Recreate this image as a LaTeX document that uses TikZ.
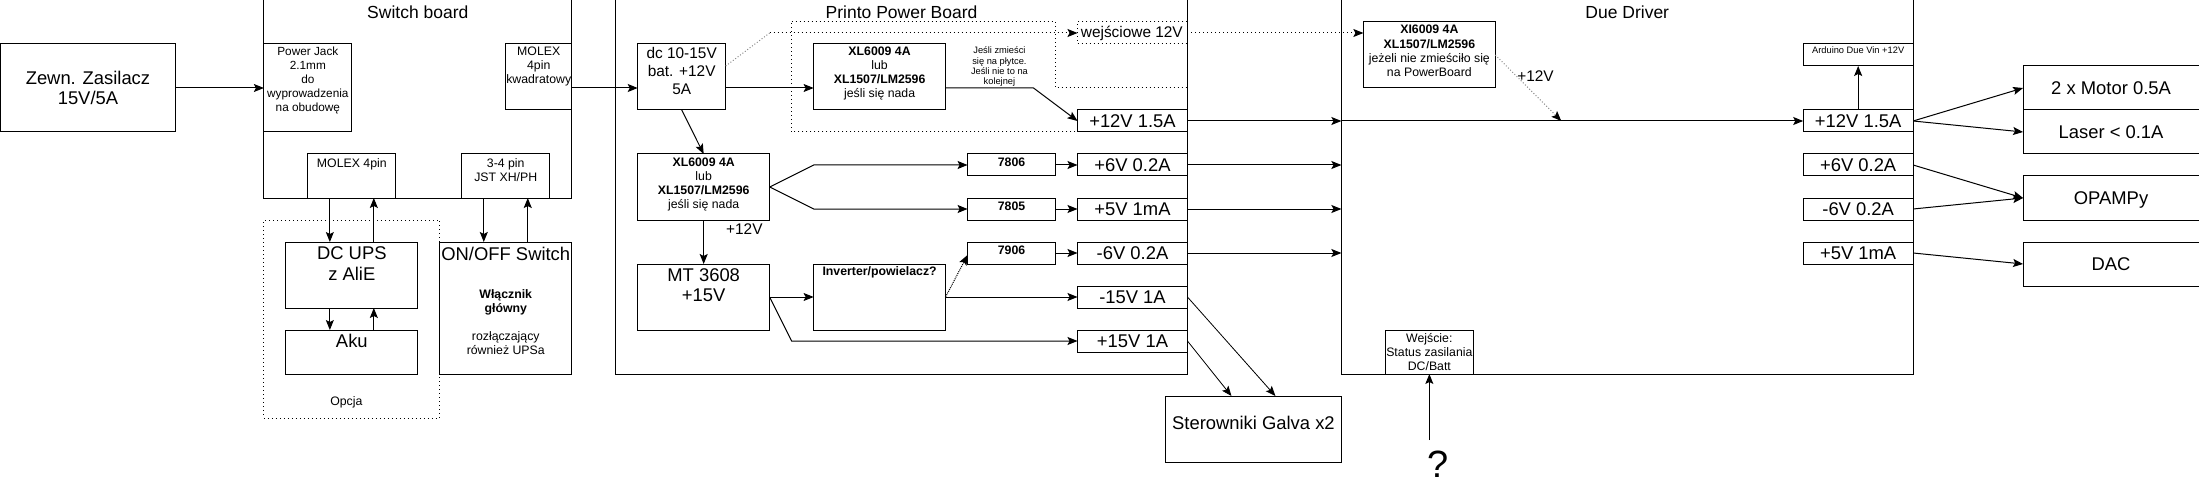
\documentclass[tikz,border=0pt]{standalone}
\usepackage{fontspec}
\setmainfont{Liberation Sans}
\usetikzlibrary{arrows.meta}
\newcommand\fzL{\fontsize{18.4}{20.5}\selectfont}
\newcommand\fzT{\fontsize{17.5}{20}\selectfont}
\newcommand\fzP{\fontsize{15.4}{18}\selectfont}
\newcommand\fzM{\fontsize{12.3}{14.1}\selectfont}
\newcommand\fzS{\fontsize{9.3}{10.3}\selectfont}
\newcommand\mkbox[7][]{\node[bx,minimum width={(#5-#3)*21.99pt},minimum height={(#6-#4)*22pt},#1] (#2) at ({(#3+#5)/2},{(#4+#6)/2}) {#7};}
\begin{document}
\begin{tikzpicture}[x=21.99pt, y=-22pt, line width=1pt,
  bx/.style={draw, inner sep=0pt, outer sep=0pt, align=center, font=\fzL},
  tl/.style={anchor=north, align=center, inner sep=0pt, font=\fzL},
  tm/.style={anchor=north, align=center, inner sep=0pt, font=\fzM},
  txt/.style={anchor=base, inner sep=0pt, align=center},
  arr/.style={-{Stealth[length=10pt,width=8pt,inset=2pt]}},
  dots/.style={dash pattern=on 1pt off 3pt},
  gdots/.style={draw=black!45, dash pattern=on 1pt off 2pt}]
\useasboundingbox (0,0) rectangle (100,22);

% ---------- dotted areas ----------
\draw[dots] (36,1) -- (48,1) -- (48,4) -- (54,4);
\draw[dots] (54,6) -- (36,6) -- (36,1);
\mkbox[dots]{opc}{12}{10}{20}{19}{}
\node[txt, font=\fzM] (opct) at (15.75,18.43) {Opcja};

% ---------- containers ----------
\mkbox[label={[tl,font=\fzT,yshift=-5.4pt]north:Switch board}]{sw}{12}{0}{26}{9}{}
\mkbox[label={[tl,font=\fzT,yshift=-5.4pt]north:Printo Power Board}]{pp}{28}{0}{54}{17}{}
\mkbox[label={[tl,font=\fzT,yshift=-5.4pt]north:Due Driver}]{due}{61}{0}{87}{17}{}

% ---------- left part ----------
\mkbox{zew}{0}{2}{8}{6}{Zewn. Zasilacz\\15V/5A}
\mkbox[label={[tm,font=\fontsize{11.8}{14.1}\selectfont,yshift=-2.3pt]north:{Power Jack\\2.1mm\\do\\wyprowadzenia\\na obudowę}}]{pj}{12}{2}{16}{6}{}
\mkbox[label={[tm,yshift=-2.3pt]north:{MOLEX\\4pin\\kwadratowy}}]{mkw}{23}{2}{26}{5}{}
\mkbox[label={[tm,yshift=-3.6pt]north:{MOLEX 4pin}}]{m4}{14}{7}{18}{9}{}
\mkbox[label={[tm,yshift=-3.6pt]north:{3-4 pin\\JST XH/PH}}]{jst}{21}{7}{25}{9}{}
\mkbox[label={[tl,yshift=-4.4pt]north:{DC UPS\\z AliE}}]{ups}{13}{11}{19}{14}{}
\mkbox[label={[tl,yshift=-3.8pt]north:{Aku}}]{aku}{13}{15}{19}{17}{}
\mkbox[label={[tl,yshift=-4.4pt]north:{ON/OFF Switch}}]{onoff}{20}{11}{26}{17}{}
\node[anchor=north, align=center, font=\fzM, inner sep=0pt] (onofftxt) at (23,13.13)
  {\textbf{Włącznik}\\\textbf{główny}\\[14pt]rozłączający\\również UPSa};

% ---------- Printo Power Board ----------
\mkbox[label={[tm,font=\fzP,yshift=-2.9pt]north:{dc 10-15V\\bat. +12V\\5A}}]{dc}{29}{2}{33}{5}{}
\mkbox[label={[tm,yshift=-2.3pt]north:{\textbf{XL6009 4A}\\lub\\\textbf{XL1507/LM2596}\\jeśli się nada}}]{xlt}{37}{2}{43}{5}{}
\node[anchor=north, align=center, font=\fzS, inner sep=0pt] (note) at (45.45,2.12)
  {Jeśli zmieści\\się na płytce.\\Jeśli nie to na\\kolejnej};
\mkbox[dots]{wej}{49}{1}{54}{2}{}
\node[txt, font=\fzP] (wejt) at (51.47,1.69) {wejściowe 12V};
\mkbox{o12}{49}{5}{54}{6}{+12V 1.5A}
\mkbox{o6}{49}{7}{54}{8}{+6V 0.2A}
\mkbox{o5}{49}{9}{54}{10}{+5V 1mA}
\mkbox{om6}{49}{11}{54}{12}{-6V 0.2A}
\mkbox{om15}{49}{13}{54}{14}{-15V 1A}
\mkbox{o15}{49}{15}{54}{16}{+15V 1A}
\mkbox[label={[tm,yshift=-3pt]north:{\textbf{XL6009 4A}\\lub\\\textbf{XL1507/LM2596}\\jeśli się nada}}]{xlm}{29}{7}{35}{10}{}
\mkbox[label={[tm,yshift=-3pt]north:{\textbf{7806}}}]{r6}{44}{7}{48}{8}{}
\mkbox[label={[tm,yshift=-3pt]north:{\textbf{7805}}}]{r5}{44}{9}{48}{10}{}
\mkbox[label={[tm,yshift=-3pt]north:{\textbf{7906}}}]{r96}{44}{11}{48}{12}{}
\mkbox[label={[tl,font=\fontsize{18.4}{20}\selectfont,yshift=-4.1pt]north:{MT 3608\\+15V}}]{mt}{29}{12}{35}{15}{}
\mkbox[label={[tm,yshift=-2.3pt]north:{\textbf{Inverter/powielacz?}}}]{inv}{37}{12}{43}{15}{}
\node[txt, font=\fzP] (l12) at (33.85,10.67) {+12V};

% ---------- Galva ----------
\mkbox{gal}{53}{18}{61}{21}{}
\node[txt, font=\fzL] (galt) at (57,19.51) {Sterowniki Galva x2};

% ---------- Due Driver ----------
\mkbox[label={[tm,yshift=-2.9pt]north:{\textbf{XI6009 4A}\\\textbf{XL1507/LM2596}\\jeżeli nie zmieściło się\\na PowerBoard}}]{xi}{62}{1}{68}{4}{}
\node[txt, font=\fzP] (l12b) at (69.83,3.70) {+12V};
\mkbox[label={[tm,yshift=-3pt]north:{Wejście:\\Status zasilania\\DC/Batt}}]{wej2}{63}{15}{67}{17}{}
\node[txt, font=\fontsize{38}{38}\selectfont] (q) at (65.39,21.72) {?};
\coordinate (qtop) at (65,20);
\mkbox[label={[tm,font=\fzS,yshift=-2.4pt]north:{Arduino Due Vin +12V}}]{ard}{82}{2}{87}{3}{}
\mkbox{d12}{82}{5}{87}{6}{+12V 1.5A}
\mkbox{d6}{82}{7}{87}{8}{+6V 0.2A}
\mkbox{dm6}{82}{9}{87}{10}{-6V 0.2A}
\mkbox{d5}{82}{11}{87}{12}{+5V 1mA}

% ---------- loads ----------
\mkbox{mot}{92}{3}{100}{5}{2 x Motor 0.5A}
\mkbox{las}{92}{5}{100}{7}{Laser < 0.1A}
\mkbox[text depth=0pt]{op}{92}{8}{100}{10}{OPAMPy}
\mkbox{dac}{92}{11}{100}{13}{DAC}

% ---------- connectors: switch board ----------
\draw[arr] (zew.east) -- (pj.west);
\draw[arr] ([xshift=-21.99pt]m4.south) -- ([xshift=-21.99pt]ups.north);
\draw[arr] ([xshift=21.99pt]ups.north) -- ([xshift=21.99pt]m4.south);
\draw[arr] ([xshift=-21.99pt]ups.south) -- ([xshift=-21.99pt]aku.north);
\draw[arr] ([xshift=21.99pt]aku.north) -- ([xshift=21.99pt]ups.south);
\draw[arr] ([xshift=-21.99pt]jst.south) -- ([xshift=-21.99pt]onoff.north);
\draw[arr] ([xshift=21.99pt]onoff.north) -- ([xshift=21.99pt]jst.south);
\draw[arr] ([yshift=-11pt]mkw.east) -- ([yshift=-11pt]dc.west);

% ---------- connectors: power board ----------
\draw[arr] ([yshift=-11pt]dc.east) -- ([yshift=-11pt]xlt.west);
\draw[arr] (dc.south) -- (xlm.north);
\draw[arr] (xlm.south) -- (mt.north);
\draw[arr] ([yshift=-11pt]xlt.east) -- ++(4,0) -- (o12.west);
\coordinate (gk) at (35,1.5);
\draw[gdots] ([yshift=11pt]dc.east) -- (gk);
\draw[dots,-{Stealth[length=10pt,width=8pt,inset=2pt]}] (gk) -- (wej.west);
\draw[dots,-{Stealth[length=10pt,width=8pt,inset=2pt]}] (wej.east) -- ([yshift=22pt]xi.west);
\draw[arr] (xlm.east) -- ++(2,-1) -- (r6.west);
\draw[arr] (xlm.east) -- ++(2,1) -- (r5.west);
\draw[arr] (r6.east) -- (o6.west);
\draw[arr] (r5.east) -- (o5.west);
\draw[arr] (r96.east) -- (om6.west);
\draw[arr] (mt.east) -- (inv.west);
\draw[arr] (mt.east) -- ++(1,2) -- (o15.west);
\draw[arr] (inv.east) -- (om15.west);
\draw[densely dotted,-{Stealth[length=10pt,width=8pt,inset=2pt]}] (inv.east) -- ([yshift=-2pt]r96.west);

% ---------- connectors: to Due Driver ----------
\coordinate (din) at (o12.east -| due.west);
\draw[arr] (o12.east) -- (din);
\draw[arr] (din) -- (d12.west);
\draw[arr] (o6.east) -- (o6.east -| due.west);
\draw[arr] (o5.east) -- (o5.east -| due.west);
\draw[arr] (om6.east) -- (om6.east -| due.west);
\draw[line width=0.8pt,arr] (om15.east) -- ([xshift=21.99pt]gal.north);
\draw[line width=0.8pt,arr] (o15.east) -- ([xshift=-21.99pt]gal.north);
\coordinate (j12) at (71,5.5);
\draw[gdots,-{Stealth[length=10pt,width=8pt,inset=2pt,black]}] (xi.east) -- (j12);
\draw[arr] (qtop) -- (wej2.south);
\draw[arr] (d12.north) -- (ard.south);

% ---------- connectors: loads ----------
\draw[arr] (d12.east) -- (mot.west);
\draw[arr] (d12.east) -- (las.west);
\draw[arr] (d6.east) -- (op.west);
\draw[arr] (dm6.east) -- (op.west);
\draw[arr] (d5.east) -- (dac.west);
\end{tikzpicture}
\end{document}
